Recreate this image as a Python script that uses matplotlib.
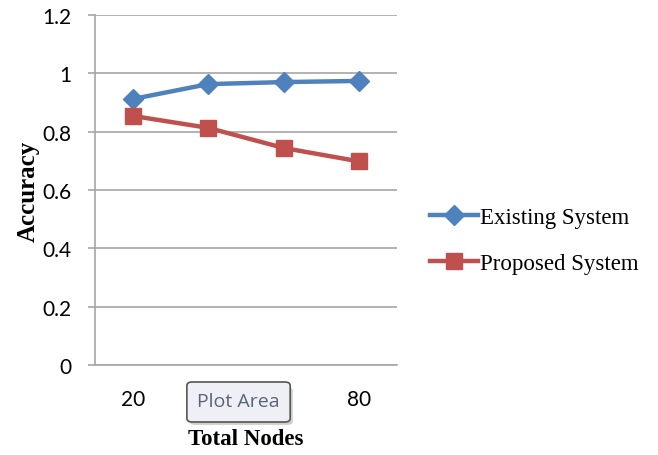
import matplotlib.pyplot as plt
from matplotlib.patches import FancyBboxPatch

categories = ["20", "40", "60", "80"]
existing = [0.912, 0.963, 0.970, 0.974]
proposed = [0.854, 0.813, 0.744, 0.698]
y_ticks = [0, 0.2, 0.4, 0.6, 0.8, 1.0, 1.2]
y_labels = ["0", "0.2", "0.4", "0.6", "0.8", "1", "1.2"]

grid_color = "#a6a6a6"

fig = plt.figure(figsize=(6.58, 4.56), dpi=100)
ax = fig.add_axes([0.1444, 0.1974, 0.459, 0.7675])

x = list(range(len(categories)))
ax.plot(x, existing, color="#4f81bd", lw=3.2, marker="D", ms=10,
        label="Existing System", zorder=3)
ax.plot(x, proposed, color="#c0504d", lw=3.2, marker="s", ms=12,
        label="Proposed System", zorder=3)

ax.set_xlim(-0.5, len(categories) - 0.5)
ax.set_ylim(0, 1.2)
ax.set_yticks(y_ticks)
ax.set_yticklabels(y_labels, fontfamily="Lato", fontsize=15)
ax.set_xticks(x)
ax.set_xticklabels(categories, fontfamily="Lato", fontsize=15)
ax.yaxis.grid(True, color=grid_color, lw=1.2)
ax.set_axisbelow(True)

# the middle category labels sit under the "Plot Area" tooltip
for lbl in ax.get_xticklabels()[1:-1]:
    lbl.set_visible(False)

for side in ["top", "right"]:
    ax.spines[side].set_visible(False)
for side in ["left", "bottom"]:
    ax.spines[side].set_color(grid_color)
    ax.spines[side].set_linewidth(1.2)

ax.tick_params(axis="y", length=5, color=grid_color, width=1.2, pad=12)
ax.tick_params(axis="x", length=0, pad=17)

ax.set_ylabel("Accuracy", fontfamily="Liberation Serif", fontweight="bold",
              fontsize=18, labelpad=2)
ax.set_xlabel("Total Nodes", fontfamily="Liberation Serif", fontweight="bold",
              fontsize=16.5, labelpad=14)

fig.legend(loc="center left", bbox_to_anchor=(0.653, 0.471),
           frameon=False, borderpad=0, borderaxespad=0,
           handlelength=2.1, handletextpad=0.1, labelspacing=1.1,
           prop={"family": "Liberation Serif", "size": 16.5})

# the "Plot Area" tooltip seen in the screenshot
shadow = FancyBboxPatch((0.288, 0.066), 0.157, 0.083,
                        boxstyle="round,pad=0,rounding_size=0.008",
                        transform=fig.transFigure, fc="#b0b0b0", ec="none",
                        alpha=0.6, zorder=9)
tip = FancyBboxPatch((0.284, 0.0724), 0.157, 0.0877,
                     boxstyle="round,pad=0,rounding_size=0.008",
                     transform=fig.transFigure, fc="#eef0f6", ec="#555555",
                     lw=1.2, zorder=10)
fig.patches.extend([shadow, tip])
fig.text(0.362, 0.118, "Plot Area", ha="center", va="center",
         fontfamily="Open Sans", fontsize=14, color="#5a6478", zorder=11)

fig.savefig("out.png", dpi=100)
